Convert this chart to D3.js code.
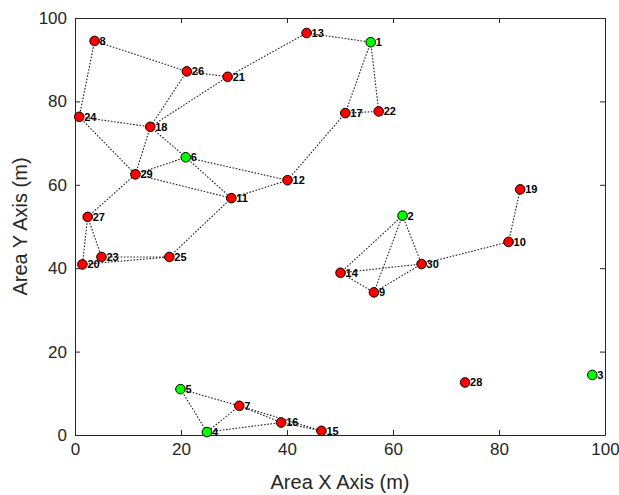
<!DOCTYPE html>
<html>
<head>
<meta charset="utf-8">
<script src="https://cdn.jsdelivr.net/npm/d3@7"></script>
<style>
  html, body { margin: 0; padding: 0; background: #fff; }
  svg { display: block; }
</style>
</head>
<body>
<svg id="chart" width="619" height="495"></svg>
<script>
// Node ids, coordinates (metres) and role
const nodeIds = [1,2,3,4,5,6,7,8,9,10,11,12,13,14,15,16,17,18,19,20,21,22,23,24,25,26,27,28,29,30];
const nodeX = [55.8,61.8,97.6,24.9,19.9,20.9,31.0,3.7,56.4,81.8,29.5,40.1,43.7,50.1,46.5,38.9,51.0,14.2,84.0,1.4,28.8,57.3,5.0,0.8,17.8,21.1,2.4,73.6,11.4,65.4];
const nodeY = [94.2,52.6,14.4,0.7,11.0,66.6,7.0,94.5,34.2,46.3,56.8,61.1,96.4,38.9,1.0,3.0,77.2,73.9,58.9,40.9,85.9,77.6,42.7,76.3,42.7,87.2,52.3,12.6,62.5,41.0];
// Anchor nodes are drawn green, all others red
const anchorIds = [1,2,3,4,5,6];
// Links between neighbouring nodes
const linkFrom = [8,8,26,26,21,21,13,1,1,17,17,24,24,18,18,6,6,6,12,29,27,27,27,23,20,11,2,2,2,14,14,9,30,10,5,5,7,7,7,4,16];
const linkTo   = [24,26,21,18,18,13,1,17,22,22,12,18,29,29,6,11,29,12,11,11,29,20,23,25,25,25,14,9,30,30,9,30,10,19,4,7,16,15,4,16,15];

const xTicks = [0,20,40,60,80,100];
const yTicks = [0,20,40,60,80,100];

const svg = d3.select("#chart");
const margin = {left: 75, top: 18, right: 14, bottom: 60};
const W = 619, H = 495;
const x = d3.scaleLinear().domain([0,100]).range([margin.left, W - margin.right]);
const y = d3.scaleLinear().domain([0,100]).range([H - margin.bottom, margin.top]);

const nodes = nodeIds.map((id,i) => ({id, x: nodeX[i], y: nodeY[i], anchor: anchorIds.includes(id)}));
const byId = new Map(nodes.map(n => [n.id, n]));
const links = linkFrom.map((a,i) => ({s: byId.get(a), t: byId.get(linkTo[i])}));

const axisColor = "#262626";
const font = "'Liberation Sans', Arial, Helvetica, sans-serif";

// Axes with inward ticks on all four sides
const axB = d3.axisBottom(x).tickValues(xTicks).tickSizeInner(-5).tickSizeOuter(0).tickPadding(8);
const axL = d3.axisLeft(y).tickValues(yTicks).tickSizeInner(-5).tickSizeOuter(0).tickPadding(8);
const axT = d3.axisTop(x).tickValues(xTicks).tickSizeInner(-5).tickSizeOuter(0).tickFormat("");
const axR = d3.axisRight(y).tickValues(yTicks).tickSizeInner(-5).tickSizeOuter(0).tickFormat("");

function style(g) {
  g.selectAll("path, line").attr("stroke", axisColor).attr("stroke-width", 1);
  g.selectAll("text").attr("fill", "#262626").style("font-family", font).style("font-size", "17px");
}
svg.append("g").attr("transform", `translate(0,${y(0)})`).call(axB).call(style);
svg.append("g").attr("transform", `translate(${x(0)},0)`).call(axL).call(style);
svg.append("g").attr("transform", `translate(0,${y(100)})`).call(axT).call(style);
svg.append("g").attr("transform", `translate(${x(100)},0)`).call(axR).call(style);

// Axis titles
svg.append("text")
  .attr("x", (x(0)+x(100))/2).attr("y", 489)
  .attr("text-anchor", "middle")
  .style("font-family", font).style("font-size", "20px").attr("fill", "#262626")
  .text("Area X Axis (m)");
svg.append("text")
  .attr("transform", `translate(27,${(y(0)+y(100))/2}) rotate(-90)`)
  .attr("text-anchor", "middle")
  .style("font-family", font).style("font-size", "20px").attr("fill", "#262626")
  .text("Area Y Axis (m)");

// Links
svg.append("g").selectAll("line").data(links).join("line")
  .attr("x1", d => x(d.s.x)).attr("y1", d => y(d.s.y))
  .attr("x2", d => x(d.t.x)).attr("y2", d => y(d.t.y))
  .attr("stroke", "#222").attr("stroke-width", 1.1)
  .attr("stroke-dasharray", "1.6,1.6");

// Nodes
svg.append("g").selectAll("circle").data(nodes).join("circle")
  .attr("cx", d => x(d.x)).attr("cy", d => y(d.y)).attr("r", 4.8)
  .attr("fill", d => d.anchor ? "#00ff00" : "#ff0000")
  .attr("stroke", "#000").attr("stroke-width", 1);

// Node labels
svg.append("g").selectAll("text").data(nodes).join("text")
  .attr("x", d => x(d.x) + 5).attr("y", d => y(d.y) + 4)
  .style("font-family", font).style("font-size", "11px").style("font-weight", "bold")
  .attr("fill", "#000")
  .text(d => d.id);
</script>
</body>
</html>
